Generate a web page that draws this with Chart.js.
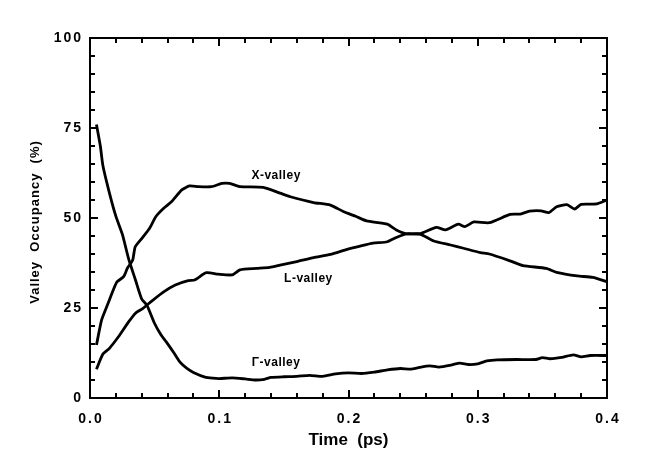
<!DOCTYPE html>
<html>
<head>
<meta charset="utf-8">
<script src="https://cdn.jsdelivr.net/npm/chart.js@4.4.1/dist/chart.umd.min.js"></script>
<style>
  html, body { margin: 0; padding: 0; background: #fff; }
  #wrap { width: 646px; height: 474px; }
</style>
</head>
<body>
<div id="wrap"><canvas id="valleyChart" width="646" height="474"></canvas></div>
<script>
// DATA (time in ps, occupancy in %)
const gammaTime = [0.005, 0.008, 0.010, 0.015, 0.020, 0.025, 0.030, 0.035, 0.040, 0.044, 0.050, 0.055, 0.059, 0.065, 0.070, 0.075, 0.080, 0.089, 0.095, 0.100, 0.110, 0.120, 0.128, 0.135, 0.140, 0.150, 0.160, 0.170, 0.180, 0.190, 0.200, 0.210, 0.220, 0.230, 0.240, 0.248, 0.255, 0.263, 0.270, 0.280, 0.286, 0.293, 0.300, 0.307, 0.315, 0.330, 0.345, 0.350, 0.356, 0.365, 0.374, 0.380, 0.387, 0.400];
const gammaValues = [76, 70, 64.5, 57, 50.5, 45.5, 38.5, 33, 27.5, 25.8, 20.7, 17.5, 15.6, 12.5, 9.8, 8.2, 7.1, 5.8, 5.5, 5.4, 5.6, 5.3, 5.0, 5.2, 5.7, 5.9, 6.0, 6.3, 6.0, 6.7, 7.0, 6.8, 7.2, 7.8, 8.2, 8.0, 8.5, 8.9, 8.6, 9.2, 9.7, 9.3, 9.5, 10.3, 10.6, 10.7, 10.7, 11.2, 10.9, 11.3, 12.0, 11.4, 11.8, 11.8];

const xTime = [0.005, 0.009, 0.014, 0.018, 0.021, 0.026, 0.029, 0.033, 0.035, 0.040, 0.046, 0.051, 0.057, 0.063, 0.071, 0.077, 0.084, 0.094, 0.102, 0.108, 0.116, 0.134, 0.147, 0.155, 0.173, 0.186, 0.196, 0.206, 0.214, 0.230, 0.237, 0.245, 0.255, 0.266, 0.279, 0.289, 0.302, 0.309, 0.325, 0.335, 0.353, 0.361, 0.377, 0.389, 0.400];
const xValues = [14.7, 21.7, 26.3, 30, 32.3, 33.7, 36.1, 38.3, 42, 44.3, 47.1, 50.4, 52.7, 54.5, 57.8, 58.9, 58.7, 58.7, 59.6, 59.6, 58.7, 58.5, 56.9, 55.9, 54.3, 53.6, 51.8, 50.4, 49.2, 48.3, 46.7, 45.6, 45.6, 43.6, 42.5, 41.6, 40.4, 40.0, 38.1, 36.8, 36.0, 34.9, 33.9, 33.5, 32.3];

const lTime = [0.005, 0.010, 0.015, 0.022, 0.030, 0.035, 0.041, 0.048, 0.057, 0.066, 0.076, 0.081, 0.090, 0.099, 0.110, 0.116, 0.129, 0.139, 0.147, 0.160, 0.173, 0.186, 0.199, 0.209, 0.219, 0.230, 0.237, 0.245, 0.255, 0.268, 0.275, 0.285, 0.290, 0.297, 0.309, 0.325, 0.333, 0.340, 0.349, 0.355, 0.361, 0.369, 0.375, 0.380, 0.392, 0.400];
const lValues = [8.0, 12.2, 13.8, 17.0, 21.2, 23.5, 24.9, 27.0, 29.5, 31.4, 32.6, 32.8, 34.8, 34.4, 34.2, 35.6, 36.0, 36.3, 36.9, 37.9, 39.0, 39.9, 41.3, 42.2, 43.0, 43.4, 44.6, 45.6, 45.6, 47.4, 46.7, 48.3, 47.6, 48.9, 48.7, 51.0, 51.1, 51.9, 52.0, 51.5, 53.1, 53.7, 52.5, 53.8, 53.9, 55.0];

const xTickLabels = ["0.0", "0.1", "0.2", "0.3", "0.4"];
const yTickLabels = ["0", "25", "50", "75", "100"];

// curve labels: [text, time, value]
const curveLabels = [["X-valley", 0.144, 61.8], ["L-valley", 0.169, 33.2], ["\u0393-valley", 0.144, 9.8]];

function toPoints(ts, vs) {
    return ts.map((t, i) => ({ x: t, y: vs[i] }));
}

// draws the boxed frame, inward ticks, tick labels, titles and curve labels
const framePlugin = {
    id: "frame",
    afterDatasetsDraw(chart) {
        const ctx = chart.ctx;
        const area = chart.chartArea;
        const xs = chart.scales.x;
        const ys = chart.scales.y;
        ctx.save();
        ctx.strokeStyle = "#000";
        ctx.fillStyle = "#000";
        ctx.lineWidth = 2;
        ctx.strokeRect(area.left, area.top, area.right - area.left, area.bottom - area.top);

        // x ticks every 0.02, major every 0.1
        for (let i = 0; i <= 20; i++) {
            const px = Math.round(xs.getPixelForValue(i * 0.02));
            const len = (i % 5 === 0) ? 8 : 5;
            ctx.beginPath();
            ctx.moveTo(px, area.bottom); ctx.lineTo(px, area.bottom - len);
            ctx.moveTo(px, area.top); ctx.lineTo(px, area.top + len);
            ctx.stroke();
        }
        // y ticks every 5, major every 25
        for (let i = 0; i <= 20; i++) {
            const py = Math.round(ys.getPixelForValue(i * 5));
            const len = (i % 5 === 0) ? 8 : 5;
            ctx.beginPath();
            ctx.moveTo(area.left, py); ctx.lineTo(area.left + len, py);
            ctx.moveTo(area.right, py); ctx.lineTo(area.right - len, py);
            ctx.stroke();
        }

        ctx.font = "bold 14px 'Liberation Sans', Arial, sans-serif";
        ctx.letterSpacing = "2px";
        ctx.textBaseline = "middle";
        ctx.textAlign = "center";
        xTickLabels.forEach((lab, i) => {
            ctx.fillText(lab, xs.getPixelForValue(i * 0.1) + 1, area.bottom + 21);
        });
        ctx.textAlign = "right";
        yTickLabels.forEach((lab, i) => {
            ctx.fillText(lab, area.left - 7, ys.getPixelForValue(i * 25));
        });

        // axis titles
        ctx.letterSpacing = "0px";
        ctx.textAlign = "center";
        ctx.font = "bold 17px 'Liberation Sans', Arial, sans-serif";
        ctx.fillText("Time  (ps)", (area.left + area.right) / 2, 440);

        ctx.save();
        ctx.translate(35, (area.top + area.bottom) / 2 + 4);
        ctx.rotate(-Math.PI / 2);
        ctx.font = "bold 13px 'Liberation Sans', Arial, sans-serif";
        ctx.letterSpacing = "1px";
        ctx.fillText("Valley  Occupancy  (%)", 0, 0);
        ctx.restore();

        // curve labels
        ctx.font = "bold 12px 'Liberation Sans', Arial, sans-serif";
        ctx.letterSpacing = "0.5px";
        ctx.textAlign = "center";
        curveLabels.forEach(c => {
            ctx.fillText(c[0], xs.getPixelForValue(c[1]), ys.getPixelForValue(c[2]));
        });
        ctx.restore();
    }
};

const lineStyle = { borderColor: "#000", borderWidth: 2.8, pointRadius: 0, fill: false, tension: 0.2 };

new Chart(document.getElementById("valleyChart").getContext("2d"), {
    type: "line",
    data: {
        datasets: [
            Object.assign({ label: "\u0393-valley", data: toPoints(gammaTime, gammaValues) }, lineStyle),
            Object.assign({ label: "X-valley", data: toPoints(xTime, xValues) }, lineStyle),
            Object.assign({ label: "L-valley", data: toPoints(lTime, lValues) }, lineStyle)
        ]
    },
    options: {
        responsive: false,
        animation: false,
        layout: { padding: { left: 90, right: 39, top: 38, bottom: 76 } },
        scales: {
            x: { type: "linear", min: 0, max: 0.4, display: false },
            y: { min: 0, max: 100, display: false }
        },
        plugins: { legend: { display: false }, tooltip: { enabled: false } }
    },
    plugins: [framePlugin]
});
</script>
</body>
</html>
